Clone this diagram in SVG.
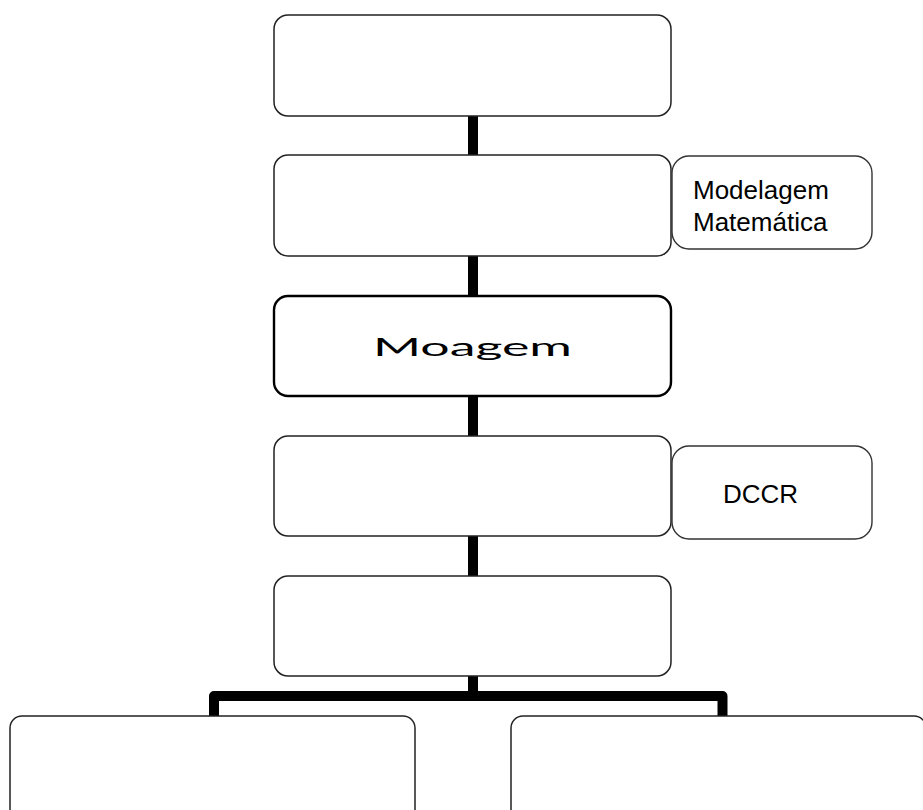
<svg xmlns="http://www.w3.org/2000/svg" width="923" height="810" viewBox="0 0 923 810">
<style>
.box{fill:#fff;stroke:#222;stroke-width:1.5}
.side{fill:#fff;stroke:#333;stroke-width:1.4}
.main{fill:#fff;stroke:#000;stroke-width:2.4}
.conn{fill:none;stroke:#000;stroke-width:10}
.lbl{font-family:"Liberation Sans",Arial,sans-serif;font-size:26px;fill:#000}
</style>
<rect width="923" height="810" fill="#fff"/>
<g id="connectors">
<line class="conn" x1="473" y1="115" x2="473" y2="156"/>
<line class="conn" x1="473" y1="255" x2="473" y2="297"/>
<line class="conn" x1="473" y1="395" x2="473" y2="437"/>
<line class="conn" x1="473" y1="535" x2="473" y2="577"/>
<line class="conn" x1="473" y1="675" x2="473" y2="696"/>
<path class="conn" stroke-linejoin="round" d="M214 717 V696 H722.5 V717"/>
</g>
<g id="node1"><rect class="box" x="274" y="15" width="397" height="101" rx="14"/></g>
<g id="node2"><rect class="box" x="274" y="155" width="397" height="101" rx="14"/></g>
<g id="node-modelagem">
<rect class="side" x="672" y="156" width="200" height="93" rx="17"/>
<text class="lbl" x="693" y="198.5">Modelagem</text>
<text class="lbl" x="693" y="231">Matemática</text>
</g>
<g id="node-moagem">
<rect class="main" x="274" y="296" width="397" height="100" rx="14"/>
<text x="373" y="355.5" font-family="Lato,'Open Sans',sans-serif" font-size="24.5" textLength="199" lengthAdjust="spacingAndGlyphs">Moagem</text>
</g>
<g id="node4"><rect class="box" x="274" y="436" width="397" height="100" rx="14"/></g>
<g id="node-dccr">
<rect class="side" x="672" y="446" width="200" height="93" rx="17"/>
<text class="lbl" x="723" y="503">DCCR</text>
</g>
<g id="node5"><rect class="box" x="274" y="576" width="397" height="100" rx="14"/></g>
<g id="node-left"><rect class="box" x="10" y="716" width="405" height="130" rx="12"/></g>
<g id="node-right"><rect class="box" x="511" y="716" width="415" height="130" rx="12"/></g>
</svg>
